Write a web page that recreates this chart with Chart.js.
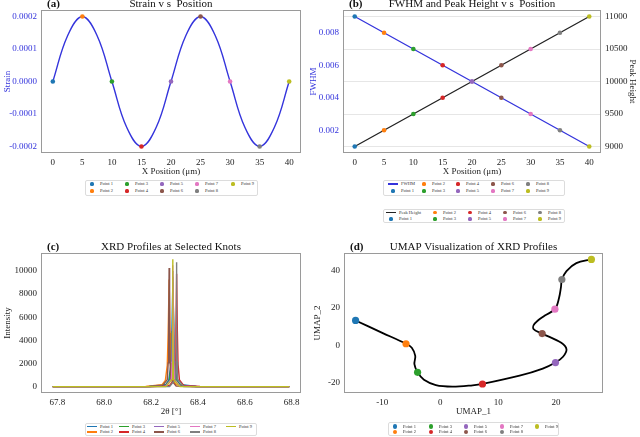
<!DOCTYPE html>
<html>
<head>
<meta charset="utf-8">
<script src="https://cdn.jsdelivr.net/npm/chart.js@4.4.0/dist/chart.umd.min.js"></script>
<style>
  html, body { margin: 0; padding: 0; background: #fff; }
  body { width: 640px; height: 437px; position: relative; overflow: hidden; font-family: "Liberation Serif", "DejaVu Serif", serif; }
  canvas { position: absolute; }
  .legend { position: absolute; border: 1px solid #dcdcdc; border-radius: 2px; background: #fff; box-sizing: border-box; }
</style>
</head>
<body>
<canvas id="chartA" width="320" height="180" style="left:0;top:0"></canvas>
<canvas id="chartB" width="334" height="180" style="left:306px;top:0"></canvas>
<canvas id="chartC" width="320" height="180" style="left:0;top:240px"></canvas>
<canvas id="chartD" width="330" height="180" style="left:310px;top:240px"></canvas>
<script>
// knot data
const pointLabels = ['Point 1', 'Point 2', 'Point 3', 'Point 4', 'Point 5', 'Point 6', 'Point 7', 'Point 8', 'Point 9'];
const pointColors = ['#1f77b4', '#ff7f0e', '#2ca02c', '#d62728', '#9467bd', '#8c564b', '#e377c2', '#7f7f7f', '#bcbd22'];
const positions = [0, 5, 10, 15, 20, 25, 30, 35, 40];
const strain = [0, 0.0002, 0, -0.0002, 0, 0.0002, 0, -0.0002, 0];
const fwhm = [0.009, 0.008, 0.007, 0.006, 0.005, 0.004, 0.003, 0.002, 0.001];
const peakHeight = [9000, 9250, 9500, 9750, 10000, 10250, 10500, 10750, 11000];

// strain curve
const strainCurveX = [0, 2.5, 5, 7.5, 10, 12.5, 15, 17.5, 20, 22.5, 25, 27.5, 30, 32.5, 35, 37.5, 40];
const strainCurveY = [0, 0.000141, 0.0002, 0.000141, 0, -0.000141, -0.0002, -0.000141, 0, 0.000141, 0.0002, 0.000141, 0, -0.000141, -0.0002, -0.000141, 0];

// XRD profiles (2theta, intensity)
const xrdP1 = [[67.78, 0], [68.193, 18], [68.263, 198], [68.275, 529], [68.284, 1800], [68.2885, 4500], [68.293, 9000], [68.2975, 4500], [68.302, 1800], [68.311, 529], [68.323, 198], [68.393, 18], [68.79, 0]];
const xrdP2 = [[67.78, 0], [68.177, 15], [68.247, 162], [68.261, 544], [68.269, 1850], [68.273, 4625], [68.277, 9250], [68.281, 4625], [68.285, 1850], [68.293, 544], [68.307, 162], [68.377, 15], [68.79, 0]];
const xrdP3 = [[67.78, 0], [68.193, 12], [68.263, 128], [68.279, 559], [68.286, 1900], [68.2895, 4750], [68.293, 9500], [68.2965, 4750], [68.3, 1900], [68.307, 559], [68.323, 128], [68.393, 12], [68.79, 0]];
const xrdP4 = [[67.78, 0], [68.209, 9], [68.279, 97], [68.297, 573], [68.303, 1950], [68.306, 4875], [68.309, 9750], [68.312, 4875], [68.315, 1950], [68.321, 573], [68.339, 97], [68.409, 9], [68.79, 0]];
const xrdP5 = [[67.78, 0], [68.193, 6], [68.263, 69], [68.283, 588], [68.288, 2000], [68.2905, 5000], [68.293, 10000], [68.2955, 5000], [68.298, 2000], [68.303, 588], [68.323, 69], [68.393, 6], [68.79, 0]];
const xrdP6 = [[67.78, 0], [68.177, 4], [68.247, 45], [68.269, 603], [68.273, 2050], [68.275, 5125], [68.277, 10250], [68.279, 5125], [68.281, 2050], [68.285, 603], [68.307, 45], [68.377, 4], [68.79, 0]];
const xrdP7 = [[67.78, 0], [68.193, 2], [68.263, 26], [68.287, 618], [68.29, 2100], [68.2915, 5250], [68.293, 10500], [68.2945, 5250], [68.296, 2100], [68.299, 618], [68.323, 26], [68.393, 2], [68.79, 0]];
const xrdP8 = [[67.78, 0], [68.279, 12], [68.305, 632], [68.307, 2150], [68.308, 5375], [68.309, 10750], [68.31, 5375], [68.311, 2150], [68.313, 632], [68.339, 12], [68.79, 0]];
const xrdP9 = [[67.78, 0], [68.263, 3], [68.291, 647], [68.292, 2200], [68.2925, 5500], [68.293, 11000], [68.2935, 5500], [68.294, 2200], [68.295, 647], [68.323, 3], [68.79, 0]];
const xrdProfiles = [xrdP1, xrdP2, xrdP3, xrdP4, xrdP5, xrdP6, xrdP7, xrdP8, xrdP9];

// UMAP embedding of the knots and the trajectory through them
const umapX = [-14.6, -5.9, -3.9, 7.3, 19.9, 17.6, 19.8, 21.0, 26.1];
const umapY = [13.3, 0.9, -14.3, -20.5, -9.1, 6.3, 19.3, 35.1, 45.8];
const umapPathX = [-14.6, -10.0, -5.9, -4.9, -4.3, -4.45, -3.9, -2.8, -0.75, 2.1, 5.6, 7.3, 13.7, 17.7, 19.9, 21.2, 21.8, 20.9, 17.6, 16.1, 16.3, 18.0, 19.8, 20.5, 20.85, 21.0, 21.8, 23.5, 26.1];
const umapPathY = [13.3, 6.7, 0.9, -1.2, -5.6, -10.0, -14.3, -18.3, -21.1, -21.9, -21.2, -20.5, -16.1, -12.3, -9.1, -6.0, -2.1, 1.4, 6.3, 8.8, 11.6, 15.8, 19.3, 25.1, 31.2, 35.1, 39.6, 43.8, 45.8];

// tick labels
const positionTicks = [0, 5, 10, 15, 20, 25, 30, 35, 40];
const strainTicks = [-0.0002, -0.0001, 0, 0.0001, 0.0002];
const fwhmTicks = [0.002, 0.004, 0.006, 0.008];
const heightTicks = [9000, 9500, 10000, 10500, 11000];
const twoThetaTicks = [67.8, 68.0, 68.2, 68.4, 68.6, 68.8];
const intensityTicks = [0, 2000, 4000, 6000, 8000, 10000];
const umap1Ticks = [-10, 0, 10, 20];
const umap2Ticks = [-20, 0, 20, 40];

Chart.defaults.font.family = '"Liberation Serif", "DejaVu Serif", serif';
Chart.defaults.font.size = 9;
Chart.defaults.color = '#222';

const FRAME = '#9a9a9a';
const BLUE = '#3434dc';

// frame round the plot area plus the "(x)  title" line above it
const panelDecor = {
    id: 'panelDecor',
    afterDatasetsDraw(chart, args, opts) {
        const ctx = chart.ctx;
        const a = chart.chartArea;
        ctx.save();
        ctx.strokeStyle = FRAME;
        ctx.lineWidth = 1;
        ctx.strokeRect(Math.round(a.left) + 0.5, Math.round(a.top) + 0.5, Math.round(a.right - a.left) - 1, Math.round(a.bottom - a.top) - 1);
        ctx.fillStyle = '#111';
        ctx.textBaseline = 'alphabetic';
        ctx.font = '11px "Liberation Serif", serif';
        ctx.textAlign = 'center';
        ctx.fillText(opts.text, (a.left + a.right) / 2, a.top - 3);
        ctx.font = 'bold 11px "Liberation Serif", serif';
        ctx.textAlign = 'left';
        ctx.fillText(opts.label, a.left + 6, a.top - 3);
        ctx.restore();
    }
};

function fixW(w) { return function(scale) { scale.width = w; }; }
function fixH(h) { return function(scale) { scale.height = h; }; }

function linAxis(min, max, tickValues, title, fit, fmt, color) {
    return {
        type: 'linear',
        min: min,
        max: max,
        afterFit: fit,
        afterBuildTicks: function(scale) {
            scale.ticks = tickValues.map(v => ({ value: v }));
        },
        grid: { display: false, drawTicks: false },
        border: { display: false },
        ticks: {
            padding: 4,
            maxRotation: 0,
            autoSkip: false,
            color: color || '#222',
            callback: fmt
        },
        title: { display: true, text: title, color: color || '#222', padding: { top: 2, bottom: 3 } }
    };
}

const baseOpts = {
    responsive: false,
    animation: false,
    plugins: { legend: { display: false }, tooltip: { enabled: false } }
};

function xy(xs, ys) { return xs.map((x, i) => ({ x: x, y: ys[i] })); }

// (a) strain
new Chart(document.getElementById('chartA'), {
    type: 'line',
    data: {
        datasets: [{
            type: 'scatter',
            data: xy(positions, strain),
            backgroundColor: pointColors,
            borderWidth: 0,
            pointRadius: 2.3
        }, {
            data: xy(strainCurveX, strainCurveY),
            borderColor: BLUE,
            borderWidth: 1.4,
            pointRadius: 0,
            tension: 0.4
        }]
    },
    options: Object.assign({}, baseOpts, {
        layout: { padding: { top: 10, right: 19, left: 0, bottom: 0 } },
        scales: {
            x: linAxis(-2, 42, positionTicks, 'X Position (\u03bcm)', fixH(27), v => v),
            y: linAxis(-0.00022, 0.00022, strainTicks, 'Strain', fixW(41), v => (Math.abs(v) < 1e-12 ? 0 : v).toFixed(4), BLUE)
        },
        plugins: Object.assign({}, baseOpts.plugins, { panelDecor: { label: '(a)', text: 'Strain v s  Position' } })
    }),
    plugins: [panelDecor]
});

// (b) FWHM and peak height
const yRight = linAxis(8900, 11100, heightTicks, 'Peak Height', fixW(39), v => v);
yRight.position = 'right';
yRight.grid = { display: true, drawTicks: false, drawOnChartArea: true, color: '#e6e6e6', lineWidth: 1 };
new Chart(document.getElementById('chartB'), {
    type: 'line',
    data: {
        datasets: [{
            type: 'scatter',
            data: xy(positions, fwhm),
            yAxisID: 'y',
            backgroundColor: pointColors,
            borderWidth: 0,
            pointRadius: 2.3
        }, {
            type: 'scatter',
            data: xy(positions, peakHeight),
            yAxisID: 'y1',
            backgroundColor: pointColors,
            borderWidth: 0,
            pointRadius: 2.3
        }, {
            data: xy(positions, fwhm),
            yAxisID: 'y',
            borderColor: BLUE,
            borderWidth: 1.3,
            pointRadius: 0
        }, {
            data: xy(positions, peakHeight),
            yAxisID: 'y1',
            borderColor: '#222',
            borderWidth: 1.3,
            pointRadius: 0
        }]
    },
    options: Object.assign({}, baseOpts, {
        layout: { padding: { top: 10, right: 0, left: 0, bottom: 0 } },
        scales: {
            x: linAxis(-2, 42, positionTicks, 'X Position (\u03bcm)', fixH(27), v => v),
            y: linAxis(0.0006, 0.0094, fwhmTicks, 'FWHM', fixW(37), v => v.toFixed(3), BLUE),
            y1: yRight
        },
        plugins: Object.assign({}, baseOpts.plugins, { panelDecor: { label: '(b)', text: 'FWHM and Peak Height v s  Position' } })
    }),
    plugins: [panelDecor]
});

// (c) XRD profiles
new Chart(document.getElementById('chartC'), {
    type: 'line',
    data: {
        datasets: xrdProfiles.map((pts, i) => ({
            label: pointLabels[i],
            data: pts.map(p => ({ x: p[0], y: p[1] })),
            borderColor: pointColors[i],
            borderWidth: 1.4,
            pointRadius: 0,
            tension: 0,
            order: 9 - i
        }))
    },
    options: Object.assign({}, baseOpts, {
        layout: { padding: { top: 13, right: 19, left: 0, bottom: 0 } },
        scales: {
            x: linAxis(67.73, 68.84, twoThetaTicks, '2\u03b8 [\u00b0]', fixH(27), v => v.toFixed(1)),
            y: linAxis(-550, 11550, intensityTicks, 'Intensity', fixW(41), v => v)
        },
        plugins: Object.assign({}, baseOpts.plugins, { panelDecor: { label: '(c)', text: 'XRD Profiles at Selected Knots' } })
    }),
    plugins: [panelDecor]
});

// (d) UMAP
new Chart(document.getElementById('chartD'), {
    type: 'line',
    data: {
        datasets: [{
            type: 'scatter',
            data: xy(umapX, umapY),
            backgroundColor: pointColors,
            borderWidth: 0,
            pointRadius: 3.6
        }, {
            data: xy(umapPathX, umapPathY),
            borderColor: '#000',
            borderWidth: 1.8,
            pointRadius: 0,
            tension: 0.35
        }]
    },
    options: Object.assign({}, baseOpts, {
        layout: { padding: { top: 13, right: 37, left: 0, bottom: 0 } },
        scales: {
            x: linAxis(-16.6, 28.1, umap1Ticks, 'UMAP_1', fixH(27), v => v),
            y: linAxis(-25.3, 49.2, umap2Ticks, 'UMAP_2', fixW(34), v => v)
        },
        plugins: Object.assign({}, baseOpts.plugins, { panelDecor: { label: '(d)', text: 'UMAP Visualization of XRD Profiles' } })
    }),
    plugins: [panelDecor]
});

// legends under the panels (two rows, filled column by column)
function buildLegend(cfg, items) {
    const box = document.createElement('div');
    box.className = 'legend';
    box.style.left = cfg.left + 'px';
    box.style.top = cfg.top + 'px';
    box.style.width = cfg.width + 'px';
    box.style.height = cfg.height + 'px';
    items.forEach((it, i) => {
        const cx = cfg.cols[Math.floor(i / 2)] - cfg.left - 1;
        const cy = cfg.rows[i % 2] - cfg.top - 1;
        const m = document.createElement('span');
        if (it.kind === 'line') {
            m.style.cssText = 'position:absolute;left:' + (cx - 5) + 'px;top:' + (cy - 0.6) + 'px;width:10px;height:1.2px;background:' + it.color;
        } else {
            const r = cfg.dot;
            m.style.cssText = 'position:absolute;left:' + (cx - r) + 'px;top:' + (cy - r) + 'px;width:' + (2 * r) + 'px;height:' + (2 * r) + 'px;border-radius:50%;background:' + it.color;
        }
        box.appendChild(m);
        const t = document.createElement('span');
        t.textContent = it.label;
        t.style.cssText = 'position:absolute;left:' + (cx + cfg.gap) + 'px;top:' + (cy - 3) + 'px;font-size:4.5px;line-height:6px;color:#333;white-space:nowrap';
        box.appendChild(t);
    });
    document.body.appendChild(box);
}

const dots = pointLabels.map((l, i) => ({ label: l, color: pointColors[i], kind: 'dot' }));
const lines = pointLabels.map((l, i) => ({ label: l, color: pointColors[i], kind: 'line' }));

buildLegend({ left: 85, top: 180, width: 173, height: 16, cols: [92, 127, 162, 197, 233], rows: [184, 191], dot: 1.6, gap: 8 }, dots);
buildLegend({ left: 383, top: 180, width: 182, height: 16, cols: [393, 424, 458, 493, 528], rows: [184, 191], dot: 1.6, gap: 8 },
    [{ label: 'FWHM', color: BLUE, kind: 'line' }].concat(dots));
buildLegend({ left: 383, top: 209, width: 182, height: 14, cols: [391, 435, 470, 505, 540], rows: [212.5, 219], dot: 1.6, gap: 8 },
    [{ label: 'Peak Height', color: '#222', kind: 'line' }].concat(dots));
buildLegend({ left: 85, top: 423, width: 172, height: 13, cols: [92, 124, 159, 195, 231], rows: [426.5, 432], dot: 1.6, gap: 8 }, lines);
buildLegend({ left: 388, top: 422, width: 171, height: 14, cols: [395, 431, 466, 502, 537], rows: [426.5, 432], dot: 2.2, gap: 8 }, dots);
</script>
</body>
</html>
